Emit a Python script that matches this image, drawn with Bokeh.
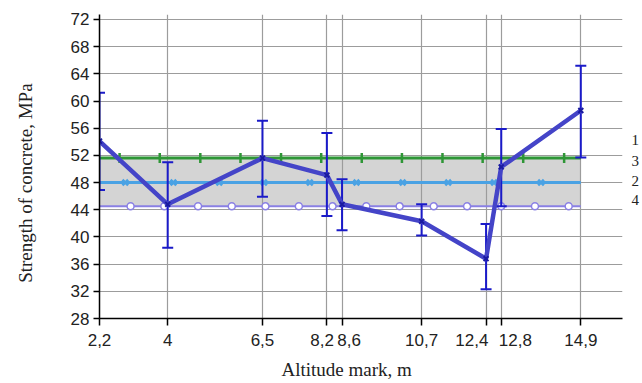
from math import pi
from bokeh.plotting import figure
from bokeh.models import FixedTicker, Range1d, LinearAxis, Title
from bokeh.embed import file_html
from bokeh.resources import INLINE

# ---- data ----
altitude = [2.2, 4, 6.5, 8.2, 8.6, 10.7, 12.4, 12.8, 14.9]
strength = [54.1, 44.8, 51.6, 49.1, 44.8, 42.3, 36.8, 50.3, 58.6]
strength_upper = [61.2, 51.0, 57.1, 55.3, 48.5, 44.8, 41.9, 55.9, 65.2]
strength_lower = [46.9, 38.4, 45.9, 43.1, 41.0, 40.2, 32.3, 44.5, 51.7]

tick_labels = ["2,2", "4", "6,5", "8,2", "8,6", "10,7", "12,4", "12,8", "14,9"]
y_ticks = [28, 32, 36, 40, 44, 48, 52, 56, 60, 64, 68, 72]

line_extent = [2.2, 14.9]
level_3 = 51.6   # green
level_2 = 48.0   # light blue
level_4 = 44.5   # purple

marks_3 = [2.73, 3.79, 4.86, 5.92, 6.99, 8.05, 9.12, 10.18, 11.25, 12.31, 13.38, 14.46]
marks_2 = [2.88, 4.15, 5.36, 6.54, 7.75, 8.98, 10.20, 11.40, 12.61, 13.85]
marks_4 = [3.02, 3.91, 4.80, 5.69, 6.58, 7.46, 8.35, 9.24, 10.12, 11.02, 11.90, 12.80, 13.69, 14.58]

series_names = ["1", "3", "2", "4"]
series_name_pos = [54.3, 51.2, 48.3, 45.4]

y_title = "Strength of concrete, MPa"
x_title = "Altitude mark, m"

# ---- figure ----
W, H = 642, 383
p = figure(width=W, height=H, output_backend="svg", toolbar_location=None,
           x_range=Range1d(2.2, 16.0), y_range=Range1d(28, 72.73),
           min_border_left=99, min_border_right=19, min_border_top=14, min_border_bottom=61)
p.outline_line_color = None
p.background_fill_color = "white"

# axes
p.xaxis.ticker = FixedTicker(ticks=altitude)
nb = "\u00a0"
display_labels = list(tick_labels)
display_labels[3] = display_labels[3] + nb * 2
display_labels[4] = nb * 3 + display_labels[4]
display_labels[6] = display_labels[6] + nb * 6
display_labels[7] = nb * 6 + display_labels[7]
p.xaxis.major_label_overrides = {x: l for x, l in zip(altitude, display_labels)}
p.yaxis.ticker = FixedTicker(ticks=y_ticks)
for ax in (p.xaxis[0], p.yaxis[0]):
    ax.axis_line_color = "black"
    ax.axis_line_width = 1.5
    ax.major_tick_line_color = "black"
    ax.major_tick_line_width = 1.5
    ax.major_tick_in = 0
    ax.minor_tick_line_color = None
    ax.major_label_text_font = "Liberation Sans"
    ax.major_label_text_font_size = "17px"
    ax.major_label_text_color = "#222222"
p.xaxis.major_tick_out = 7
p.xaxis.major_label_standoff = 5
p.yaxis.major_tick_out = 6
p.yaxis.major_label_standoff = 4

# y title as the axis label (trailing no-break spaces shift it down like the original)
p.yaxis.axis_label = y_title + nb * 7
p.yaxis.axis_label_standoff = 32
p.yaxis.axis_label_text_font = "Liberation Serif"
p.yaxis.axis_label_text_font_size = "19px"
p.yaxis.axis_label_text_font_style = "normal"
p.yaxis.axis_label_text_color = "#222222"

# right-hand series numbers
right_axis = LinearAxis(ticker=FixedTicker(ticks=series_name_pos),
                        major_label_overrides={v: n for v, n in zip(series_name_pos, series_names)})
right_axis.axis_line_color = None
right_axis.major_tick_line_color = None
right_axis.minor_tick_line_color = None
right_axis.major_tick_in = 0
right_axis.major_tick_out = 0
right_axis.major_label_standoff = 9
right_axis.major_label_text_font = "Liberation Serif"
right_axis.major_label_text_font_size = "15px"
right_axis.major_label_text_color = "#222222"
p.add_layout(right_axis, "right")

p.xgrid.ticker = FixedTicker(ticks=altitude + [16.0])
p.ygrid.ticker = FixedTicker(ticks=y_ticks)
for g in (p.xgrid[0], p.ygrid[0]):
    g.grid_line_color = "#9c9c9c"
    g.grid_line_width = 1.2

# x title
p.add_layout(Title(text=x_title, align="left", offset=182, standoff=8,
                   text_font="Liberation Serif", text_font_size="19px",
                   text_font_style="normal", text_color="#222222"), "below")

# shaded band between series 4 and 3
band = p.varea(x=line_extent, y1=[level_4] * 2, y2=[level_3] * 2, fill_color="#d4d4d4")
band.level = "image"

# series 4 (purple, circles)
p.line(line_extent, [level_4] * 2, line_color="#8a80e4", line_width=2)
p.scatter(marks_4, [level_4] * len(marks_4), marker="circle", size=7,
          line_color="#8a80e4", line_width=1.5, fill_color="white")

# series 2 (light blue, x)
p.line(line_extent, [level_2] * 2, line_color="#4aa2e4", line_width=3)
p.scatter(marks_2, [level_2] * len(marks_2), marker="x", size=8,
          line_color="#4aa2e4", line_width=2.5)

# series 3 (green, vertical dashes)
p.line(line_extent, [level_3] * 2, line_color="#2e9636", line_width=3)
p.scatter(marks_3, [level_3] * len(marks_3), marker="dash", angle=pi / 2, size=10,
          line_color="#2e9636", line_width=2.5)

# series 1 error bars
p.segment(altitude, strength_lower, altitude, strength_upper, line_color="#1a1ac8", line_width=2)
p.scatter(altitude, strength_upper, marker="dash", size=11, line_color="#1a1ac8", line_width=2)
p.scatter(altitude, strength_lower, marker="dash", size=11, line_color="#1a1ac8", line_width=2)

# series 1 main line
p.line(altitude, strength, line_color="#4444c8", line_width=4.5)
p.scatter(altitude, strength, marker="x", size=7, line_color="#1a1aa0", line_width=2)

open("out.html", "w").write(file_html(p, INLINE))
